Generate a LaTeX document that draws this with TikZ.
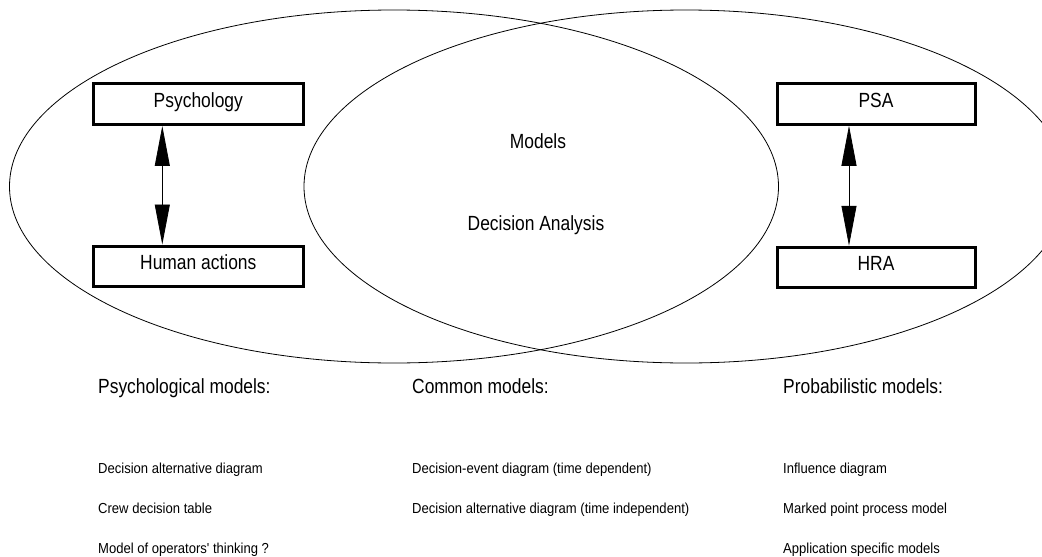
\documentclass[tikz,border=0pt]{standalone}
\usepackage{fontspec}
\setmainfont{Liberation Sans}
\newfontfamily\bigf[FakeStretch=0.85]{Liberation Sans}
\newfontfamily\smallf[FakeStretch=0.9]{Liberation Sans}
\usetikzlibrary{arrows.meta}
\tikzset{
  box/.style={draw, line width=3pt, minimum width=210pt, minimum height=40.5pt,
    inner sep=0pt, text height=14.7pt, text depth=8pt, font=\bigf\fontsize{20.5}{24}\selectfont},
  rbox/.style={box, minimum width=198pt},
  venn/.style={draw, line width=0.8pt},
  link/.style={line width=0.8pt, {Triangle[length=40pt,width=15pt]}-{Triangle[length=40pt,width=15pt]}},
  head/.style={anchor=base west, inner sep=0pt, font=\bigf\fontsize{20.5}{24}\selectfont},
  item/.style={anchor=base west, inner sep=0pt, font=\smallf\fontsize{14.5}{17}\selectfont},
  mid/.style={anchor=base, inner sep=0pt, font=\bigf\fontsize{20.5}{24}\selectfont}
}
\begin{document}
\begin{tikzpicture}[x=1pt,y=-1pt]
\useasboundingbox (0,0) rectangle (1042,557);
\clip (0,0) rectangle (1042,557);
\draw[venn] (394,186.5) ellipse [x radius=384.5, y radius=176.5];
\draw[venn] (686,186.5) ellipse [x radius=382, y radius=176.5];
\node[box] (psy) at (198.3,104.2) {Psychology};
\node[box] (hum) at (198.3,266.3) {Human actions};
\node[rbox] (psa) at (876,104) {PSA};
\node[rbox] (hra) at (876,267.5) {HRA};
\draw[link] ([xshift=-36pt]psy.south) -- ([xshift=-36pt]hum.north);
\draw[link] ([xshift=-27pt]psa.south) -- ([xshift=-27pt]hra.north);
\node[mid] (models) at (538,148) {Models};
\node[mid] (da) at (536,230) {Decision Analysis};
\node[head] (h1) at (98,393) {Psychological models:};
\node[head] (h2) at (412,393) {Common models:};
\node[head] (h3) at (783,393) {Probabilistic models:};
\node[item] (a1) at (98,473) {Decision alternative diagram};
\node[item] (a2) at (98,513) {Crew decision table};
\node[item] (a3) at (98,553) {Model of operators' thinking ?};
\node[item] (b1) at (412,473) {Decision-event diagram (time dependent)};
\node[item] (b2) at (412,513) {Decision alternative diagram (time independent)};
\node[item] (c1) at (783,473) {Influence diagram};
\node[item] (c2) at (783,513) {Marked point process model};
\node[item] (c3) at (783,553) {Application specific models};
\end{tikzpicture}
\end{document}
